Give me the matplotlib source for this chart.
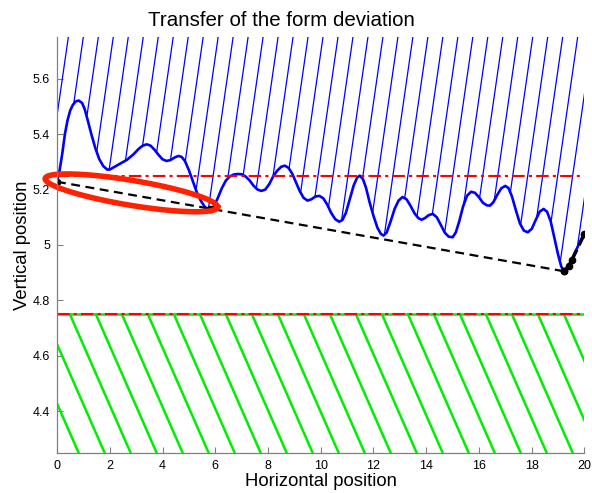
import numpy as np
import matplotlib
matplotlib.use('Agg')
from matplotlib import pyplot as plt

plt.rcParams['font.family'] = ['Liberation Sans', 'DejaVu Sans']

# measured profile (horizontal position, vertical position)
profile_x = [0.00, 0.10, 0.20, 0.30, 0.40, 0.50, 0.60, 0.70, 0.82, 0.95,
             1.05, 1.15, 1.30, 1.45, 1.60, 1.75, 1.90, 2.00, 2.15, 2.40,
             2.65, 2.90, 3.10, 3.25, 3.40, 3.55, 3.70, 3.85, 4.00, 4.15,
             4.30, 4.45, 4.60, 4.72, 4.85, 5.00, 5.15, 5.30, 5.45, 5.60,
             5.72, 5.82, 5.95, 6.10, 6.25, 6.40, 6.55, 6.70, 6.85, 7.00,
             7.15, 7.30, 7.45, 7.60, 7.75, 7.90, 8.05, 8.20, 8.35, 8.50,
             8.64, 8.78, 8.92, 9.05, 9.20, 9.35, 9.50, 9.65, 9.80, 9.95,
             10.10, 10.25, 10.40, 10.55, 10.70, 10.82, 10.95, 11.10, 11.25, 11.38,
             11.48, 11.60, 11.72, 11.85, 12.00, 12.15, 12.28, 12.38, 12.50, 12.65,
             12.80, 12.95, 13.10, 13.25, 13.40, 13.55, 13.70, 13.82, 13.95, 14.10,
             14.25, 14.40, 14.55, 14.70, 14.85, 15.00, 15.12, 15.25, 15.40, 15.55,
             15.70, 15.85, 16.00, 16.15, 16.30, 16.42, 16.55, 16.70, 16.85, 17.00,
             17.12, 17.25, 17.40, 17.55, 17.70, 17.85, 18.00, 18.15, 18.30, 18.45,
             18.58, 18.72, 18.85, 19.00, 19.12, 19.24, 19.35, 19.50, 19.65, 19.80,
             19.95, 20.00]
profile_y = [5.228, 5.270, 5.330, 5.400, 5.450, 5.485, 5.505, 5.517, 5.521, 5.512,
             5.490, 5.455, 5.400, 5.350, 5.310, 5.285, 5.272, 5.272, 5.280, 5.293,
             5.307, 5.327, 5.347, 5.358, 5.363, 5.358, 5.343, 5.325, 5.309, 5.303,
             5.306, 5.315, 5.321, 5.318, 5.303, 5.270, 5.230, 5.190, 5.160, 5.138,
             5.130, 5.130, 5.140, 5.170, 5.205, 5.232, 5.247, 5.254, 5.256, 5.255,
             5.247, 5.233, 5.214, 5.200, 5.195, 5.200, 5.220, 5.248, 5.268, 5.282,
             5.286, 5.278, 5.257, 5.228, 5.195, 5.170, 5.160, 5.165, 5.175, 5.177,
             5.168, 5.145, 5.115, 5.093, 5.084, 5.090, 5.115, 5.165, 5.215, 5.243,
             5.250, 5.238, 5.205, 5.155, 5.105, 5.062, 5.040, 5.034, 5.045, 5.085,
             5.130, 5.160, 5.173, 5.165, 5.142, 5.115, 5.097, 5.091, 5.097, 5.108,
             5.112, 5.100, 5.073, 5.045, 5.030, 5.028, 5.045, 5.085, 5.140, 5.178,
             5.192, 5.188, 5.172, 5.152, 5.143, 5.142, 5.155, 5.182, 5.205, 5.213,
             5.205, 5.175, 5.125, 5.078, 5.052, 5.046, 5.058, 5.090, 5.120, 5.130,
             5.120, 5.085, 5.030, 4.965, 4.922, 4.905, 4.915, 4.945, 4.975, 5.005,
             5.035, 5.042]

# contact line through the lowest points
contact_x = [0.0, 5.8, 19.24]
contact_y = [5.228, 5.131, 4.905]
end_x = [19.24, 19.40, 19.52, 20.0]
end_y = [4.905, 4.925, 4.945, 5.040]

upper_limit = 5.25
lower_limit = 4.75

# hatch parameters
blue_slope = 0.66
blue_x0, blue_step = 0.43, 0.568
green_slope = 0.217
green_x0, green_step = 0.49, 0.986

x_ticks = [0, 2, 4, 6, 8, 10, 12, 14, 16, 18, 20]
y_ticks = [4.4, 4.6, 4.8, 5.0, 5.2, 5.4, 5.6]
y_tick_labels = ['4.4', '4.6', '4.8', '5', '5.2', '5.4', '5.6']

xmin, xmax = 0, 20
ymin, ymax = 4.25, 5.75

fig = plt.figure(figsize=(5.92, 4.93), dpi=100)
ax = fig.add_axes([0.0963, 0.0811, 0.891, 0.8439])

# blue hatch above the profile
px = np.array(profile_x)
py = np.array(profile_y)
k = 0
while True:
    xt = blue_x0 + (k - 1) * blue_step
    k += 1
    if xt > 21.6:
        break
    xs = np.linspace(xt, xt - 2.0, 4001)
    ys = ymax - blue_slope * (xt - xs)
    below = ys <= np.interp(xs, px, py)
    if not below.any():
        continue
    i = np.argmax(below)
    ax.plot([xs[i], xt], [ys[i], ymax], color='#0000ff', lw=0.9)

# green hatch below the lower limit
for j in range(-3, 20):
    xt = green_x0 + j * green_step
    xb = xt + (lower_limit - ymin) / green_slope
    ax.plot([xt, xb], [lower_limit, ymin], color='#00ee00', lw=1.8)

ax.plot(profile_x, profile_y, color='#0000ff', lw=1.9)

ax.axhline(lower_limit, color='#00ee00', lw=1.8)
ax.axhline(upper_limit, color='#ff0000', lw=1.5, ls='-.', dashes=(6, 2, 1.5, 2))
ax.axhline(lower_limit, color='#ff0000', lw=1.5, ls='-.', dashes=(6, 2, 1.5, 2))

ax.plot(contact_x, contact_y, color='black', lw=1.6, ls='--', dashes=(4, 2.5),
        marker='o', ms=4.5)
ax.plot(end_x, end_y, color='black', lw=2.4, ls='--', dashes=(3, 1.5),
        marker='o', ms=4.5)

# red ellipse marking the first contact
sx, sy = 26.4, 278.5  # pixels per data unit
ecx, ecy = 2.82, 5.188
ea, eb, eang = 87.5, 12.5, np.deg2rad(-9.5)
t = np.linspace(0, 2 * np.pi, 300)
ex = ea * np.cos(t) * np.cos(eang) - eb * np.sin(t) * np.sin(eang)
ey = ea * np.cos(t) * np.sin(eang) + eb * np.sin(t) * np.cos(eang)
ax.plot(ecx + ex / sx, ecy + ey / sy, color='#ff2200', lw=4.0, clip_on=False)

ax.set_xlim(xmin, xmax)
ax.set_ylim(ymin, ymax)
ax.set_xticks(x_ticks)
ax.set_yticks(y_ticks)
ax.set_yticklabels(y_tick_labels)
for s in ['top', 'right']:
    ax.spines[s].set_visible(False)
for s in ['left', 'bottom']:
    ax.spines[s].set_color('#808080')
    ax.spines[s].set_linewidth(0.9)
ax.tick_params(direction='in', length=4, color='#808080', labelsize=9, pad=5)

ax.set_title('Transfer of the form deviation', fontsize=14.8, pad=8, x=0.426)
ax.set_xlabel('Horizontal position', fontsize=13.3, labelpad=1)
ax.set_ylabel('Vertical position', fontsize=13.3, labelpad=1)

fig.savefig('out.png', dpi=100)
